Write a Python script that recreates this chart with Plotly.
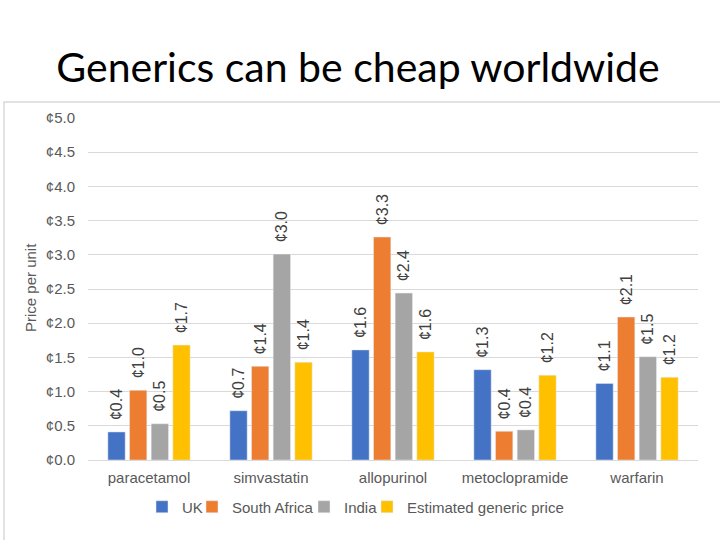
import plotly.graph_objects as go

categories = ["paracetamol", "simvastatin", "allopurinol", "metoclopramide", "warfarin"]
uk = [0.41, 0.72, 1.61, 1.32, 1.12]
south_africa = [1.02, 1.37, 3.26, 0.42, 2.09]
india = [0.53, 3.01, 2.44, 0.44, 1.51]
estimated = [1.68, 1.43, 1.58, 1.24, 1.21]
series_names = ["UK", "South Africa", "India", "Estimated generic price"]
colors = ["#4472C4", "#ED7D31", "#A5A5A5", "#FFC000"]
tick_vals = [0.0, 0.5, 1.0, 1.5, 2.0, 2.5, 3.0, 3.5, 4.0, 4.5, 5.0]
tick_text = ["¢%.1f" % v for v in tick_vals]

L, R, T, B = 88, 22, 118, 80
PW, PH = 720 - L - R, 540 - T - B
legend_text_x = [182, 232, 344, 407]
legend_ids = ["legend", "legend2", "legend3", "legend4"]

fig = go.Figure()
for name, vals, col, lid in zip(series_names, [uk, south_africa, india, estimated], colors, legend_ids):
    fig.add_trace(go.Bar(
        x=categories, y=vals, name=name, marker_color=col, legend=lid, showlegend=True,
        text=["\u00a0\u00a0¢%.1f" % v for v in vals], textposition="outside",
        textangle=-90, cliponaxis=False, constraintext="none",
        textfont=dict(family="Liberation Sans, Arial", size=16, color="#404040"),
    ))

legends = {}
for lid, tx in zip(legend_ids, legend_text_x):
    legends[lid] = dict(orientation="h", x=(tx - 40 - L) / PW, xanchor="left",
                        y=(460 - 507) / PH, yanchor="middle", bgcolor="rgba(0,0,0,0)",
                        font=dict(size=15, color="#595959"), itemwidth=30, visible=True)

fig.update_layout(
    width=720, height=540, showlegend=True,
    paper_bgcolor="white", plot_bgcolor="white",
    margin=dict(l=L, r=R, t=T, b=B, autoexpand=False),
    barmode="group", bargap=0.29, bargroupgap=0.2,
    font=dict(family="Liberation Sans, Arial", size=15, color="#595959"),
    title=dict(text="Generics can be cheap worldwide", x=358 / 720, xref="container", xanchor="center",
               y=1 - 68 / 540, yref="container", yanchor="middle",
               font=dict(family="Lato", size=41, color="#000000")),
    yaxis=dict(range=[0, 5], tickvals=tick_vals, ticktext=tick_text, automargin=False,
               showgrid=True, gridcolor="#D9D9D9", gridwidth=1.3, zeroline=True,
               zerolinecolor="#D9D9D9", zerolinewidth=1.3, showline=False, ticks="",
               ticklabelstandoff=12, tickfont=dict(size=15, color="#595959")),
    xaxis=dict(showgrid=False, showline=True, linecolor="#D9D9D9", linewidth=1.3, ticks="",
               automargin=False, ticklabelstandoff=4, tickfont=dict(size=15, color="#595959")),
    annotations=[dict(text="Price per unit", xref="paper", yref="paper",
                      x=(30 - L) / PW, y=(460 - 288) / PH, textangle=-90, showarrow=False,
                      xanchor="center", yanchor="middle",
                      font=dict(size=15, color="#595959"))],
    shapes=[dict(type="rect", xref="paper", yref="paper",
                 x0=(4 - L) / PW, x1=(760 - L) / PW,
                 y0=(460 - 560) / PH, y1=(460 - 102) / PH,
                 line=dict(color="#D9D9D9", width=1.5), fillcolor="rgba(0,0,0,0)", layer="below")],
    **legends,
)
fig.write_html("out.html", config={"displayModeBar": False},
               post_script="document.body.style.margin='0';")
